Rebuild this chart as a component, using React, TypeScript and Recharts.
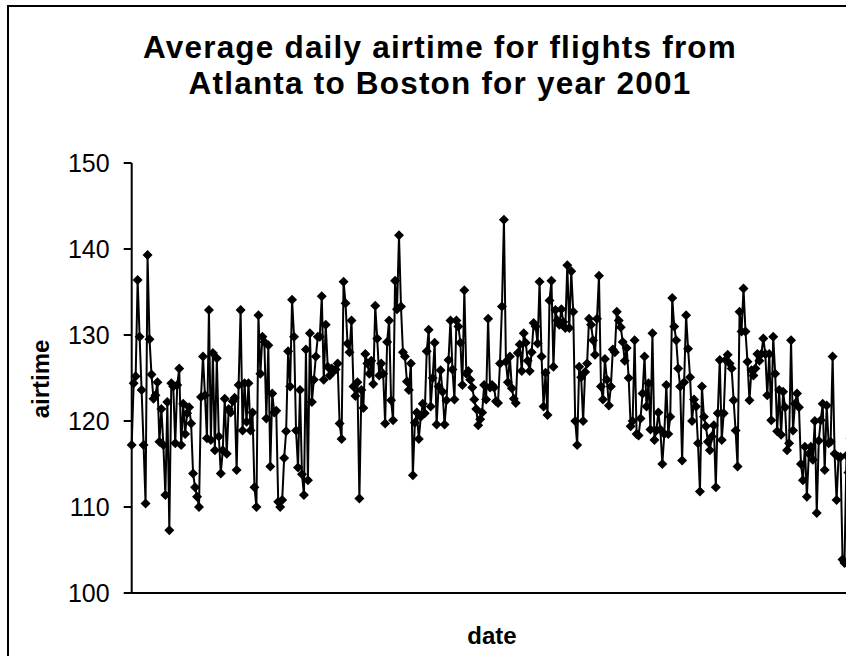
import { LineChart, Line, XAxis, YAxis } from 'recharts'

// average daily airtime (minutes), one array per month of 2001
const jan = [117.2, 124.4, 125.2, 136.4, 129.8, 123.6, 117.2, 110.4, 139.3, 129.5, 125.4, 122.6, 123.0, 124.5, 117.6, 121.4, 117.2, 111.4, 122.2, 107.3, 124.4, 124.0, 117.4, 124.2, 126.1, 117.2, 122.0, 118.5, 120.9, 121.6, 119.7]
const feb = [113.9, 112.3, 111.2, 110.0, 122.8, 127.5, 123.0, 118.0, 132.9, 117.8, 127.9, 116.6, 127.3, 118.2, 113.9, 116.6, 122.6, 116.2, 121.4, 121.0, 122.3, 122.7, 114.3, 124.2, 132.9, 118.9, 124.4, 119.9]
const mar = [124.4, 118.9, 121.0, 112.3, 110.0, 132.3, 125.5, 129.8, 129.2, 120.3, 128.8, 114.7, 123.2, 121.0, 121.2, 110.6, 110.0, 110.8, 115.7, 118.8, 128.1, 124.0, 134.1, 129.8, 118.9, 114.6, 123.6, 113.8, 111.4, 128.3, 113.1]
const apr = [130.2, 122.2, 124.8, 127.5, 129.8, 129.8, 134.5, 124.8, 131.2, 126.3, 125.3, 126.1, 125.8, 126.0, 126.7, 119.7, 117.9, 136.2, 133.7, 129.0, 128.0, 131.7, 124.0, 122.9, 124.5, 111.0, 123.6, 121.5, 127.8, 126.7]
const may = [125.5, 127.0, 124.3, 133.4, 129.6, 125.3, 126.7, 125.5, 119.7, 129.2, 131.7, 122.4, 120.1, 136.3, 133.0, 141.6, 133.3, 128.0, 127.5, 124.6, 123.6, 126.7, 113.7, 119.8, 121.0, 117.9, 120.5, 122.0, 120.9, 128.1, 130.6]
const jun = [121.7, 125.0, 129.1, 119.6, 124.0, 125.9, 123.4, 119.6, 122.4, 127.1, 131.7, 126.0, 122.5, 131.7, 131.0, 129.1, 124.2, 135.2, 125.5, 125.8, 124.8, 123.9, 122.5, 121.4, 119.5, 120.2, 121.0, 124.2, 122.5, 131.9]
const jul = [123.9, 124.2, 123.9, 122.3, 122.1, 126.7, 133.3, 143.4, 126.9, 124.5, 127.5, 123.8, 122.6, 122.1, 127.9, 128.9, 125.8, 130.2, 129.1, 127.0, 125.8, 128.0, 131.4, 131.0, 129.0, 136.2, 127.5, 121.7, 125.6, 120.7, 134.0]
const aug = [136.3, 126.3, 132.9, 131.7, 131.2, 133.0, 131.5, 130.8, 138.1, 130.8, 137.4, 132.7, 120.0, 117.2, 126.3, 125.1, 120.0, 125.7, 126.7, 131.9, 131.2, 129.4, 127.7, 131.9, 136.9, 124.0, 122.5, 127.2, 124.8, 121.8, 124.0]
const sep = [128.3, 128.0, 132.7, 131.7, 130.9, 129.2, 127.0, 128.5, 125.0, 119.4, 120.0, 129.4, 118.5, 118.3, 120.3, 123.2, 127.5, 121.7, 124.4, 119.0, 130.2, 117.8, 118.9, 121.0, 119.0, 115.0, 118.5, 124.2, 118.5, 120.5]
const oct = [134.3, 131.0, 129.4, 126.1, 124.0, 115.4, 124.5, 132.3, 128.4, 125.1, 120.0, 122.5, 121.7, 117.4, 111.8, 124.0, 120.5, 119.4, 117.6, 116.6, 118.2, 119.5, 112.3, 120.9, 127.1, 117.8, 120.9, 127.1, 127.7, 126.7, 126.1]
const nov = [122.4, 118.9, 114.7, 132.7, 130.4, 135.4, 130.4, 126.9, 122.4, 125.9, 125.3, 126.1, 127.8, 127.0, 127.8, 129.6, 127.8, 123.0, 127.8, 120.1, 129.8, 125.5, 118.8, 123.6, 118.4, 123.4, 121.6, 116.6, 117.4, 129.4]
const dec = [118.9, 122.0, 123.2, 121.6, 115.0, 113.1, 117.0, 111.2, 116.2, 117.0, 115.5, 120.0, 109.3, 117.7, 120.1, 122.0, 114.3, 121.8, 117.4, 117.6, 127.5, 116.2, 110.8, 115.8, 115.8, 103.9, 103.5, 116.0, 114.0, 118.0, 115.0]

// day-of-year where each month begins (tick marks on the date axis)
const monthStarts = [0, 31, 59, 90, 120, 151, 181, 212, 243, 273, 304, 334, 365]
const yTicks = [100, 110, 120, 130, 140, 150]

const airtime = [jan, feb, mar, apr, may, jun, jul, aug, sep, oct, nov, dec].flat()
const data = airtime.map((v, i) => ({ day: i, airtime: v }))

const FONT = '"Liberation Sans", Arial, sans-serif'

function Diamond(props: any) {
  const { cx, cy } = props
  if (cx == null || cy == null) return null
  const r = 5
  return (
    <path
      key={props.key ?? `${cx}-${cy}`}
      d={`M${cx},${cy - r}L${cx + r},${cy}L${cx},${cy + r}L${cx - r},${cy}Z`}
      fill="#000"
      stroke="none"
    />
  )
}

export default function App() {
  return (
    <div
      style={{
        position: 'fixed', left: 0, top: 0, width: 846, height: 656,
        overflow: 'hidden', background: '#fff', fontFamily: FONT,
      }}
    >
      {/* chart area frame */}
      <div
        style={{
          position: 'absolute', left: 7, top: 5, width: 900, height: 700,
          border: '2px solid #000', boxSizing: 'border-box',
        }}
      />
      <div
        style={{
          position: 'absolute', left: 0, top: 29, width: 880, textAlign: 'center',
          fontSize: 31.5, fontWeight: 'bold', lineHeight: '36px', letterSpacing: 1.2,
        }}
      >
        Average daily airtime for flights from
        <br />
        Atlanta to Boston for year 2001
      </div>
      <div
        style={{
          position: 'absolute', left: -59, top: 365, width: 200, textAlign: 'center',
          fontSize: 24, fontWeight: 'bold', lineHeight: '28px', transform: 'rotate(-90deg)',
        }}
      >
        airtime
      </div>
      <div
        style={{
          position: 'absolute', left: 392, top: 622, width: 200, textAlign: 'center',
          fontSize: 24, fontWeight: 'bold', lineHeight: '28px',
        }}
      >
        date
      </div>
      <div style={{ position: 'absolute', left: 0, top: 0 }}>
        <LineChart
          width={880}
          height={680}
          data={data}
          margin={{ top: 163, right: 25.6, bottom: 57, left: 71.7 }}
        >
          <XAxis
            type="number"
            dataKey="day"
            domain={[0, 365]}
            ticks={monthStarts}
            interval={0}
            tick={false}
            tickSize={7}
            height={30}
            axisLine={{ stroke: '#000', strokeWidth: 2 }}
            tickLine={{ stroke: '#000', strokeWidth: 2 }}
          />
          <YAxis
            domain={[100, 150]}
            ticks={yTicks}
            interval={0}
            width={60}
            tickSize={8}
            tickMargin={14}
            axisLine={{ stroke: '#000', strokeWidth: 2 }}
            tickLine={{ stroke: '#000', strokeWidth: 2 }}
            tick={{ fill: '#000', fontSize: 25, fontFamily: FONT }}
          />
          <Line
            type="linear"
            dataKey="airtime"
            stroke="#000"
            strokeWidth={2}
            dot={Diamond}
            activeDot={false}
            isAnimationActive={false}
          />
        </LineChart>
      </div>
    </div>
  )
}
